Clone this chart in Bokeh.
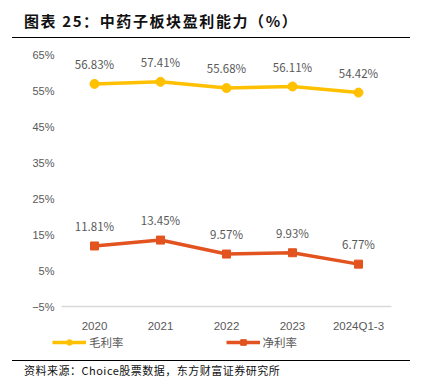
from bokeh.plotting import figure
from bokeh.models import (ColumnDataSource, FixedTicker, CustomJSTickFormatter, Legend,
                          LegendItem, Div, LabelSet, FactorRange)
from bokeh.core.properties import value
from bokeh.layouts import column
from bokeh.embed import file_html
from bokeh.resources import INLINE

categories = ["2020", "2021", "2022", "2023", "2024Q1-3"]
gross_margin = [56.83, 57.41, 55.68, 56.11, 54.42]
net_margin = [11.81, 13.45, 9.57, 9.93, 6.77]
y_ticks = [-5, 5, 15, 25, 35, 45, 55, 65]

YELLOW = "#FFC000"
RED = "#E2531F"
GREY_TEXT = "#595959"

src = ColumnDataSource(dict(
    x=categories,
    g=gross_margin,
    n=net_margin,
    gl=[f"{v:.2f}%" for v in gross_margin],
    nl=[f"{v:.2f}%" for v in net_margin],
))

xr = FactorRange(factors=categories, range_padding=0.273, range_padding_units="absolute")
p = figure(x_range=xr, y_range=(-17.5, 65), width=409, height=311,
           output_backend="svg", toolbar_location=None,
           min_border_left=43, min_border_right=0, min_border_top=10, min_border_bottom=4)
p.outline_line_color = None
p.background_fill_color = "white"
p.border_fill_color = "white"
p.xgrid.visible = False
p.ygrid.visible = False

# category baseline at -5%
p.segment(x0=[(categories[0], -0.5)], x1=[(categories[-1], 0.5)], y0=[-5], y1=[-5],
          line_color="#D9D9D9", line_width=1.5)

gl = p.line("x", "g", source=src, line_color=YELLOW, line_width=3.5)
gm = p.scatter("x", "g", source=src, marker="circle", size=9, fill_color=YELLOW, line_color=YELLOW)
nl = p.line("x", "n", source=src, line_color=RED, line_width=3.5)
nm = p.scatter("x", "n", source=src, marker="square", size=8, fill_color=RED, line_color=RED)

for col, lab in (("g", "gl"), ("n", "nl")):
    p.add_layout(LabelSet(x="x", y=col, text=lab, source=src, text_align="center",
                          text_baseline="middle", y_offset=20, text_font_size="11.5px",
                          text_color=GREY_TEXT, text_font=value("Noto Sans CJK SC")))

p.yaxis.ticker = FixedTicker(ticks=y_ticks)
p.yaxis.formatter = CustomJSTickFormatter(code="return (tick < 0 ? '\u2212' + Math.abs(tick) : tick) + '%';")
p.yaxis.axis_line_color = None
p.yaxis.major_tick_line_color = None
p.yaxis.minor_tick_line_color = None
p.yaxis.major_label_text_color = GREY_TEXT
p.yaxis.major_label_text_font = "Liberation Sans"
p.yaxis.major_label_text_font_size = "11px"
p.yaxis.major_label_standoff = -17

p.xaxis.fixed_location = -5
p.xaxis.axis_line_color = None
p.xaxis.major_tick_line_color = None
p.xaxis.minor_tick_line_color = None
p.xaxis.major_label_text_color = GREY_TEXT
p.xaxis.major_label_text_font = "Liberation Sans"
p.xaxis.major_label_text_font_size = "11.5px"
p.xaxis.major_label_standoff = 7

legend = Legend(items=[LegendItem(label="毛利率", renderers=[gl, gm]),
                       LegendItem(label="净利率", renderers=[nl, nm])],
                orientation="horizontal", location=(9, 1),
                label_text_font="Noto Sans CJK SC", label_text_font_size="11.5px",
                label_text_color=GREY_TEXT, glyph_width=34, glyph_height=14,
                spacing=102, padding=0, margin=0, border_line_color=None,
                background_fill_alpha=0, label_standoff=3)
p.add_layout(legend, "center")

title = Div(text='<div style="margin-left:7px;width:398px;height:33px;border-bottom:1px solid #000;'
                 'box-sizing:border-box;padding-left:12px;padding-top:1px;font-family:\'Noto Sans CJK SC\';'
                 'font-weight:bold;font-size:15px;letter-spacing:1.6px;line-height:30px;color:#111;white-space:nowrap;">'
                 '图表 25：中药子板块盈利能力（%）</div>',
            width=409, height=34)
footer = Div(text='<div style="margin-left:7px;margin-top:0px;width:398px;border-top:1px solid #000;'
                  'box-sizing:border-box;padding-left:12px;padding-top:2px;font-family:\'Noto Sans CJK SC\';'
                  'font-size:11px;line-height:14px;color:#111;white-space:nowrap;letter-spacing:0.5px;">'
                  '资料来源：Choice股票数据，东方财富证券研究所</div>',
             width=409, height=18)

layout = column(title, p, footer, spacing=0)
open("out.html", "w").write(file_html(layout, INLINE))
